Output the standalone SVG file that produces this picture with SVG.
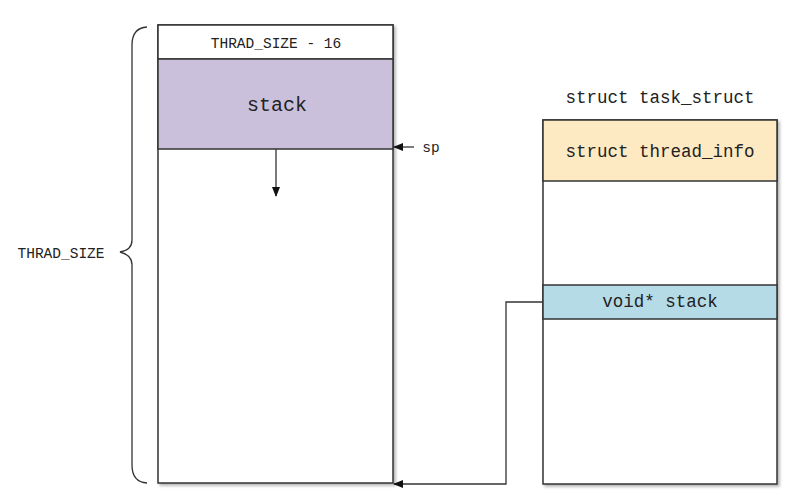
<svg xmlns="http://www.w3.org/2000/svg" width="793" height="498" viewBox="0 0 793 498">
<style>
.box{fill:#fff;stroke:#333;stroke-width:1.5}
.t{font-family:"Liberation Mono","DejaVu Sans Mono",monospace;fill:#222;text-anchor:middle}
.ln{fill:none;stroke:#333;stroke-width:1.3}
</style>
<defs>
<filter id="sh" x="-5%" y="-5%" width="115%" height="115%"><feDropShadow dx="2" dy="2" stdDeviation="1.5" flood-color="#000" flood-opacity="0.3"/></filter>
<marker id="ah" markerWidth="10" markerHeight="8" refX="9" refY="4" orient="auto" markerUnits="userSpaceOnUse"><path d="M0,0 L10,4 L0,8 Z" fill="#111"/></marker>
</defs>
<rect width="793" height="498" fill="#fff"/>
<g id="thread-stack">
<rect class="box" x="158" y="25" width="235" height="458" filter="url(#sh)"/>
<rect x="158" y="25" width="235" height="34" fill="#fff" stroke="#333" stroke-width="1.5"/>
<text class="t" x="276" y="48" font-size="14.5">THRAD_SIZE - 16</text>
<rect x="158" y="59" width="235" height="90" fill="#cac0dc" stroke="#333" stroke-width="1.5"/>
<text class="t" x="277" y="111" font-size="20">stack</text>
</g>
<g id="brace">
<path class="ln" d="M147,27 Q132,28 132,45 L132,240 Q132,250 120,252 Q132,255 132,265 L132,465 Q132,482 147,483"/>
<text class="t" x="61" y="258" font-size="14.5">THRAD_SIZE</text>
</g>
<g id="task-struct">
<text class="t" x="660" y="103" font-size="17.5">struct task_struct</text>
<rect class="box" x="543" y="120" width="234" height="364" filter="url(#sh)"/>
<rect x="543" y="120" width="234" height="61" fill="#fde9c2" stroke="#333" stroke-width="1.5"/>
<text class="t" x="660" y="157" font-size="17.5">struct thread_info</text>
<rect x="543" y="285" width="234" height="34" fill="#b5dbe7" stroke="#333" stroke-width="1.5"/>
<text class="t" x="660" y="307" font-size="17.5">void* stack</text>
</g>
<g id="connectors">
<line class="ln" x1="276" y1="149" x2="276" y2="196" marker-end="url(#ah)"/>
<line class="ln" x1="414" y1="147" x2="394" y2="147" marker-end="url(#ah)"/>
<text class="t" x="431" y="152" font-size="14.5">sp</text>
<polyline class="ln" points="543,302 506,302 506,484 394,484" marker-end="url(#ah)"/>
</g>
</svg>
